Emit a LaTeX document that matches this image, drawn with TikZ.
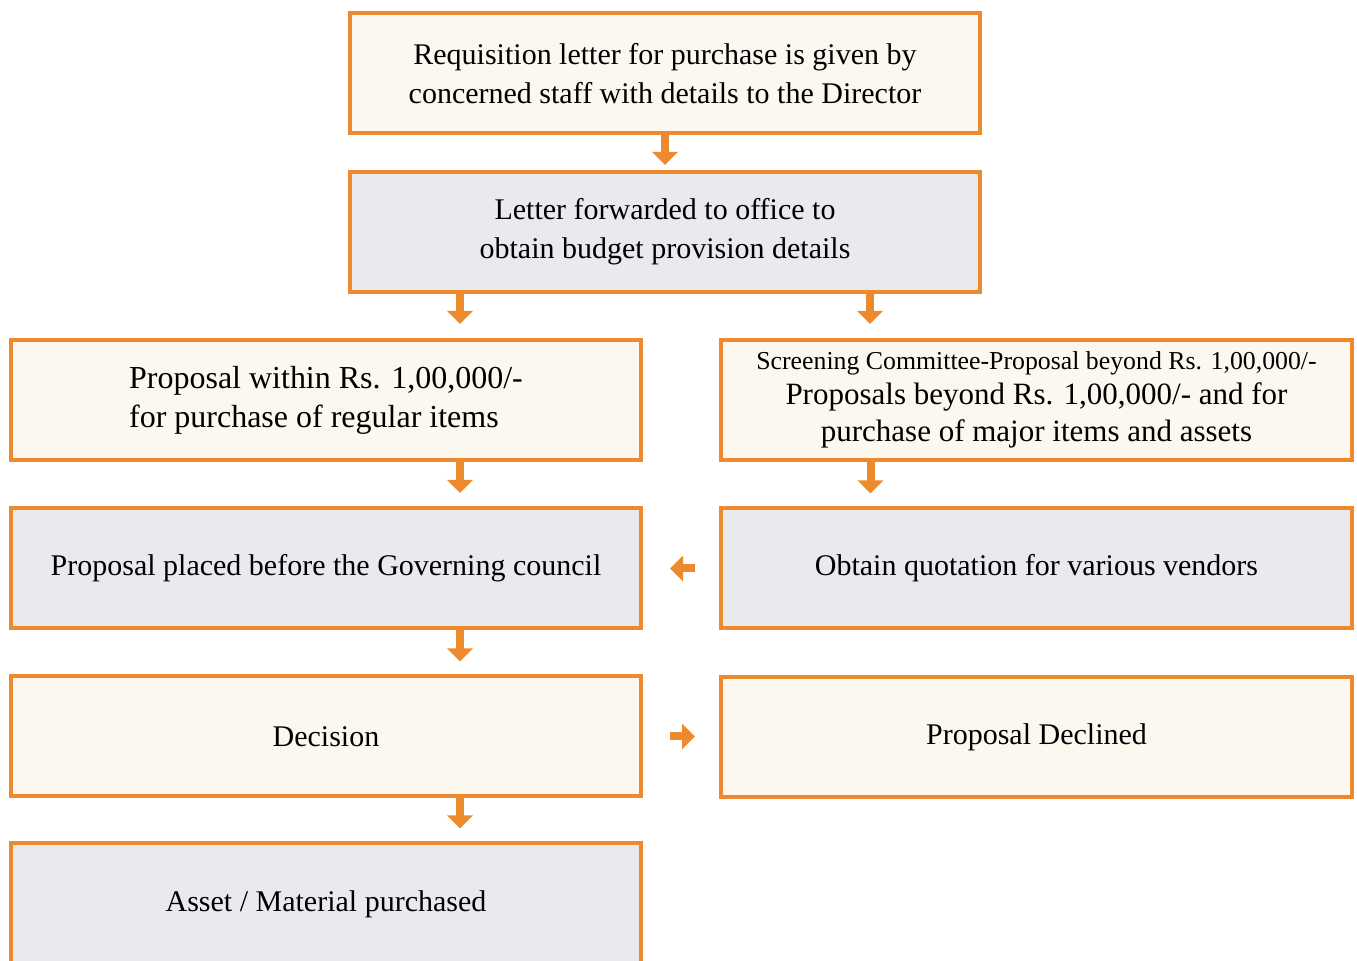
\documentclass[tikz,border=0pt]{standalone}
\usepackage{fontspec}
\setmainfont{Liberation Serif}
\usetikzlibrary{arrows.meta}
\definecolor{bord}{HTML}{EE8A2E}
\definecolor{cream}{HTML}{FCF8EF}
\definecolor{greyb}{HTML}{E8EAEE}
\tikzset{
 box/.style={draw=bord, line width=2pt, minimum width=315pt, minimum height=60pt, inner sep=0pt, align=center, font=\fontsize{15}{19.5}\selectfont},
 cbox/.style={box, fill=cream},
 gbox/.style={box, fill=greyb},
 arr/.style={draw=bord, line width=4pt, -{Triangle[width=12.5pt,length=6.5pt]}},
}
\begin{document}
\begin{tikzpicture}[x=0.5pt,y=-0.5pt]
\useasboundingbox (0,0) rectangle (1357,961);
\fill[white] (0,0) rectangle (1357,961);
\node[cbox] (b1) at (665,73.5) {Requisition letter for purchase is given by\\concerned staff with details to the Director};
\node[gbox] (b2) at (665,232) {Letter forwarded to office to\\obtain budget provision details};
\node[cbox, align=left, font=\fontsize{16}{19.5}\selectfont] (b3) at (326,400) {Proposal within Rs. 1,00,000/-\\for purchase of regular items};
\node[cbox, font=\fontsize{15.5}{18.5}\selectfont, minimum width=315.5pt] (b4) at (1036.5,400) {{\fontsize{12.9}{14}\selectfont Screening Committee-Proposal beyond Rs. 1,00,000/-}\\[-1pt]Proposals beyond Rs. 1,00,000/- and for\\purchase of major items and assets};
\node[gbox] (b5) at (326,568) {Proposal placed before the Governing council};
\node[gbox, minimum width=315.5pt] (b6) at (1036.5,568.5) {Obtain quotation for various vendors};
\node[cbox] (b7) at (326,736.5) {Decision};
\node[cbox, minimum width=315.5pt] (b8) at (1036.5,737) {Proposal Declined};
\node[gbox, minimum height=61pt] (b9) at (326,904.5) {Asset / Material purchased};
\draw[arr, shorten >=2.5pt] (b1.south) -- (b2.north);
\draw[arr, shorten >=7pt] ([xshift=-102.5pt]b2.south) -- ([xshift=-102.5pt]b2.south |- b3.north);
\draw[arr, shorten >=7pt] ([xshift=102.5pt]b2.south) -- ([xshift=102.5pt]b2.south |- b4.north);
\draw[arr, shorten >=6.5pt] ([xshift=67pt]b3.south) -- ([xshift=67pt]b5.north);
\draw[arr, shorten >=6.5pt] ([xshift=-83pt]b4.south) -- ([xshift=-83pt]b4.south |- b6.north);
\draw[arr, shorten >=6.5pt] ([xshift=67pt]b5.south) -- ([xshift=67pt]b7.north);
\draw[arr, shorten >=6.5pt] ([xshift=67pt]b7.south) -- ([xshift=67pt]b9.north);
\draw[arr, shorten <=12pt, shorten >=13.5pt] (b6.west) -- (b6.west -| b5.east);
\draw[arr, shorten <=13.5pt, shorten >=12pt] (b7.east) -- (b7.east -| b8.west);
\end{tikzpicture}
\end{document}
